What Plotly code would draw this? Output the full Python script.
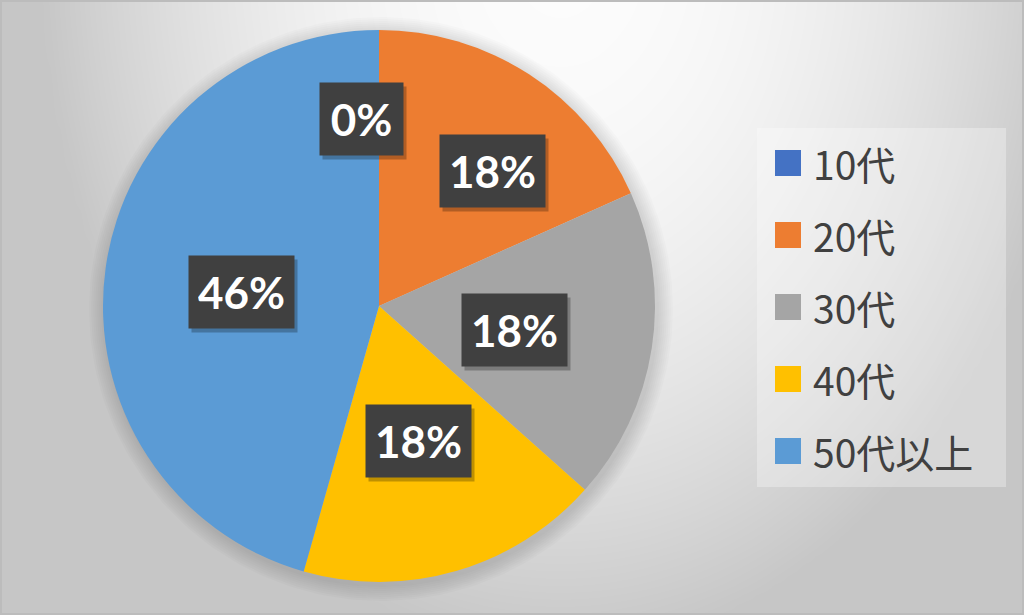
import numpy as np
import plotly.graph_objects as go

# ---- data ----
categories = ["10代", "20代", "30代", "40代", "50代以上"]
values = [0, 18.3, 18.3, 17.8, 45.6]
colors = ["#4472C4", "#ED7D31", "#A5A5A5", "#FFC000", "#5B9BD5"]

# ---- layout / style constants (pixels) ----
W, H = 1024, 615
CX, CY, R = 379, 306, 276            # pie centre & radius
label_r = [0.68, 0.64, 0.50, 0.51, 0.50]   # label distance (fraction of R)
label_dang = [-5.5, 7, 1, 0, -2]           # label angular nudge (deg)
LEG_X0, LEG_X1, LEG_Y0, LEG_Y1 = 757, 1006, 128, 487
LEG_FIRST, LEG_STEP, SQ = 163, 72, 26
LBL_FONT = "Lato, Open Sans, sans-serif"

fig = go.Figure()

# background gradient
xs = np.linspace(0, W, 104)
ys = np.linspace(0, H, 64)
X, Y = np.meshgrid(xs, ys)
t = np.clip(np.sqrt(((X - 560) / 520) ** 2 + ((Y + 50) / 700) ** 2), 0, 1)
Z = 252 - 54 * t ** 2
fig.add_trace(go.Heatmap(x=xs, y=ys, z=Z, zmin=0, zmax=255,
                         colorscale=[[0, "rgb(0,0,0)"], [1, "rgb(255,255,255)"]],
                         zsmooth="best", showscale=False, hoverinfo="skip"))

# soft shadow around the pie
th = np.linspace(0, 2 * np.pi, 240)
for k in range(1, 9):
    r = R + 2 * k
    fig.add_trace(go.Scatter(x=CX + 2 + r * np.cos(th), y=CY + 3 + r * np.sin(th),
                             mode="lines", fill="toself",
                             fillcolor="rgba(0,0,0,0.014)", line=dict(width=0),
                             hoverinfo="skip", showlegend=False))

# pie
fig.add_trace(go.Pie(labels=categories, values=values,
                     marker=dict(colors=colors, line=dict(width=0)),
                     sort=False, direction="clockwise", rotation=0,
                     textinfo="none", hoverinfo="label+percent",
                     domain=dict(x=[(CX - R) / W, (CX + R) / W],
                                 y=[1 - (CY + R) / H, 1 - (CY - R) / H]),
                     showlegend=False))

annotations = []
shapes = []

# data labels
tot = sum(values)
cum = 0
for i, v in enumerate(values):
    mid = (cum + v / 2) / tot * 360
    cum += v
    a = np.radians(mid + label_dang[i])
    d = label_r[i] * R
    px = CX + d * np.sin(a)
    py = CY - d * np.cos(a)
    s = f"{round(v / tot * 100)}%"
    bw = 22 * len(s) + 21
    common = dict(x=px, y=py, xref="x", yref="y", showarrow=False,
                  width=bw, height=54, borderpad=9, xanchor="center", yanchor="middle")
    # drop shadow box
    annotations.append(dict(text="&nbsp;", bgcolor="rgba(0,0,0,0.25)", xshift=3, yshift=-4,
                            font=dict(family=LBL_FONT, size=44, color="rgba(0,0,0,0)"),
                            **common))
    annotations.append(dict(text=f"<b>{s}</b>", bgcolor="#404040",
                            font=dict(family=LBL_FONT, size=44, color="white"),
                            **common))

# legend
shapes.append(dict(type="rect", xref="x", yref="y", x0=LEG_X0, x1=LEG_X1, y0=LEG_Y0, y1=LEG_Y1,
                   fillcolor="rgba(255,255,255,0.3)", line=dict(width=0), layer="above"))
for i, (c, col) in enumerate(zip(categories, colors)):
    yc = LEG_FIRST + i * LEG_STEP
    shapes.append(dict(type="rect", xref="x", yref="y", x0=775, x1=775 + SQ,
                       y0=yc - SQ / 2, y1=yc + SQ / 2, fillcolor=col,
                       line=dict(width=0), layer="above"))
    annotations.append(dict(text=c, x=811, y=yc, xref="x", yref="y", showarrow=False,
                            xanchor="left", yanchor="middle",
                            font=dict(family="Noto Sans CJK JP", size=39, color="#404040")))

# outer border
shapes.append(dict(type="rect", xref="x", yref="y", x0=1, x1=W - 1, y0=1, y1=H - 1,
                   line=dict(color="#bcbcbc", width=2), layer="above"))

fig.update_layout(
    width=W, height=H, margin=dict(l=0, r=0, t=0, b=0),
    paper_bgcolor="#e0e0e0", plot_bgcolor="#e0e0e0",
    xaxis=dict(range=[0, W], domain=[0, 1], visible=False, fixedrange=True),
    yaxis=dict(range=[H, 0], domain=[0, 1], visible=False, fixedrange=True),
    showlegend=False, annotations=annotations, shapes=shapes,
)

fig.write_html("out.html", config={"displayModeBar": False},
               post_script="document.body.style.margin='0px';")
